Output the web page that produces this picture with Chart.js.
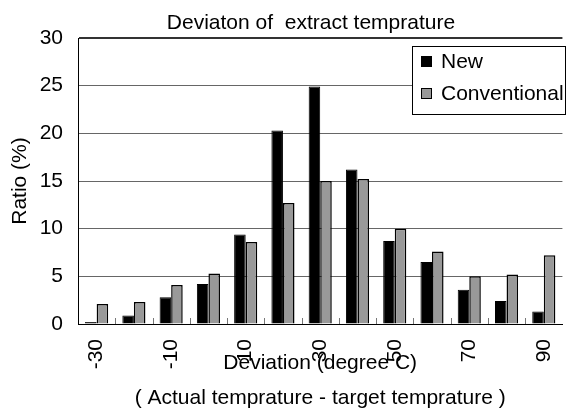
<!DOCTYPE html>
<html><head><meta charset="utf-8">
<script src="https://cdn.jsdelivr.net/npm/chart.js@4/dist/chart.umd.min.js"></script>
<style>html,body{margin:0;padding:0;background:#fff;} #wrap{width:584px;height:414px;position:relative;}</style>
</head><body><div id="wrap"><canvas id="c"></canvas></div>
<script>
const categories = [-30, -20, -10, 0, 10, 20, 30, 40, 50, 60, 70, 80, 90];
const newValues = [0.2, 0.9, 2.8, 4.2, 9.4, 20.3, 24.9, 16.2, 8.7, 6.5, 3.6, 2.4, 1.3];
const conventionalValues = [2.1, 2.3, 4.1, 5.3, 8.6, 12.7, 15.0, 15.2, 10.0, 7.6, 5.0, 5.2, 7.2];
const seriesNames = ['New', 'Conventional'];
const chartTitle = 'Deviaton of  extract temprature';
const yTitle = 'Ratio (%)';
const xTitle = ['Deviation (degree C)', '( Actual temprature - target temprature )'];
const yMin = 0, yMax = 30, yStep = 5;

const FONT = "'Liberation Sans', Arial, sans-serif";

const extras = {
  id: 'extras',
  afterDatasetsDraw(chart) {
    const ctx = chart.ctx;
    const xs = chart.scales.x;
    const area = chart.chartArea;
    ctx.save();
    ctx.strokeStyle = '#777';
    ctx.lineWidth = 1;
    for (let i = 1; i < categories.length; i++) {
      const x = Math.round((xs.getPixelForValue(i - 1) + xs.getPixelForValue(i)) / 2) + 0.5;
      ctx.beginPath();
      ctx.moveTo(x, area.bottom - 6);
      ctx.lineTo(x, area.bottom);
      ctx.stroke();
    }
    ctx.restore();
  },
  afterDraw(chart) {
    const ctx = chart.ctx;
    ctx.save();
    // title
    ctx.fillStyle = '#000';
    ctx.font = '21px ' + FONT;
    ctx.textAlign = 'center';
    ctx.textBaseline = 'alphabetic';
    ctx.fillText(chartTitle, 311, 28.5);
    // legend
    const bx = 412.5, by = 46.5, bw = 153, bh = 68;
    ctx.fillStyle = '#fff';
    ctx.fillRect(bx, by, bw, bh);
    ctx.strokeStyle = '#000';
    ctx.lineWidth = 1;
    ctx.strokeRect(bx, by, bw, bh);
    const ys = [61, 93];
    chart.data.datasets.forEach((ds, i) => {
      ctx.fillStyle = ds.backgroundColor;
      ctx.fillRect(421, ys[i] - 5, 10, 10);
      ctx.strokeStyle = '#000';
      ctx.lineWidth = 1;
      ctx.strokeRect(421.5, ys[i] - 4.5, 10, 10);
      ctx.fillStyle = '#000';
      ctx.font = '21px ' + FONT;
      ctx.textAlign = 'left';
      ctx.textBaseline = 'middle';
      ctx.fillText(ds.label, 441, ys[i] + 1);
    });
    ctx.restore();
  }
};

new Chart(document.getElementById('c'), {
  type: 'bar',
  data: {
    labels: categories.map(String),
    datasets: [
      { label: seriesNames[0], data: newValues, backgroundColor: '#000000', borderColor: '#000000', borderWidth: 1 },
      { label: seriesNames[1], data: conventionalValues, backgroundColor: '#999999', borderColor: '#000000', borderWidth: 1.5 }
    ]
  },
  options: {
    responsive: true,
    maintainAspectRatio: false,
    animation: false,
    layout: { padding: { top: 38, right: 0, left: 0, bottom: 0 } },
    plugins: { legend: { display: false }, title: { display: false }, tooltip: { enabled: false } },
    datasets: { bar: { categoryPercentage: 0.62, barPercentage: 1.0 } },
    scales: {
      x: {
        offset: true,
        grid: { display: true, drawOnChartArea: false, drawTicks: false },
        border: { display: true, color: '#000', width: 1 },
        ticks: {
          autoSkip: false, maxRotation: 90, minRotation: 90, padding: 15,
          color: '#000', font: { family: FONT, size: 21 },
          callback: function (v, i) { return i % 2 === 0 ? String(categories[i]) : ''; }
        },
        title: {
          display: true, text: xTitle, color: '#000',
          font: { family: FONT, size: 21, lineHeight: 1.667 }, padding: { top: 0, bottom: -2 }
        },
        afterFit(scale) { scale.height = 90; }
      },
      y: {
        min: yMin, max: yMax,
        grid: {
          drawTicks: false,
          color: (c) => c.tick && c.tick.value === yMax ? '#333' : '#666',
          lineWidth: (c) => c.tick && c.tick.value === yMax ? 2 : 1
        },
        border: { display: true, color: '#000', width: 1 },
        ticks: { stepSize: yStep, padding: 15, color: '#000', font: { family: FONT, size: 21 } },
        title: { display: true, text: yTitle, color: '#000', font: { family: FONT, size: 21 }, padding: { top: 8, bottom: 0 } },
        afterFit(scale) { scale.width = 78; }
      }
    }
  },
  plugins: [extras]
});
</script>
</body></html>
